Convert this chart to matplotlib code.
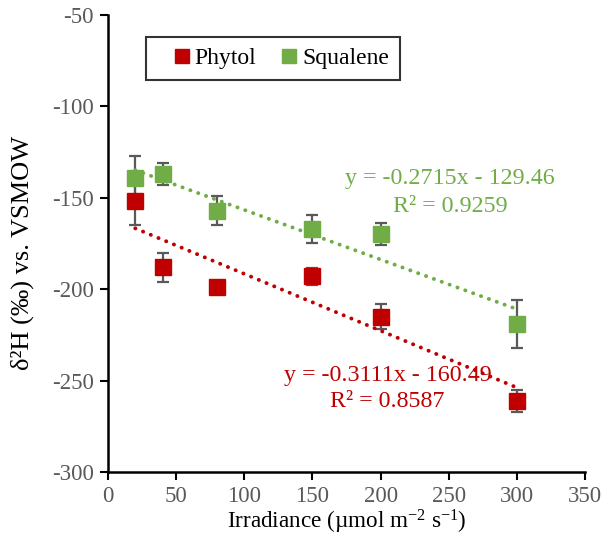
import matplotlib
matplotlib.use("Agg")
import matplotlib.pyplot as plt
import numpy as np

plt.rcParams['font.family'] = ['Liberation Serif', 'DejaVu Serif']
plt.rcParams['mathtext.fontset'] = 'custom'
plt.rcParams['mathtext.rm'] = 'Liberation Serif'
plt.rcParams['mathtext.it'] = 'Liberation Serif:italic'

# Irradiance levels (µmol m-2 s-1)
irradiance = [20, 40, 80, 150, 200, 300]

# δ2H values (‰ vs VSMOW) with standard deviations
phytol = [-152, -188, -199, -193, -215, -261]
phytol_err = [13, 8, 2, 4.5, 7, 6]
squalene = [-139, -137, -157, -167, -170, -219]
squalene_err = [12, 6, 8, 7.5, 6, 13]

# Linear fits (slope, intercept, R²)
phytol_fit = (-0.3111, -160.49, 0.8587)
squalene_fit = (-0.2715, -129.46, 0.9259)

red = '#C00000'
green = '#70AD47'
grey = '#595959'

fig = plt.figure(figsize=(6.03, 5.41), dpi=100)
ax = fig.add_axes([108/603, 1 - 472/541, 477/603, 457/541])

x = np.array(irradiance, dtype=float)
for vals, errs, col, lab in [(phytol, phytol_err, red, 'Phytol'),
                             (squalene, squalene_err, green, 'Squalene')]:
    ax.errorbar(x, vals, yerr=errs, fmt='none', ecolor=grey, elinewidth=1.6,
                capsize=4.3, capthick=1.6, zorder=2)
    ax.plot(x, vals, 's', color=col, ms=11, mec=col, label=lab, zorder=3)

for (m, b, r2), col in [(phytol_fit, red), (squalene_fit, green)]:
    xs = np.array([x.min(), x.max()])
    ax.plot(xs, m * xs + b, color=col, lw=2.8, linestyle=(0, (0.05, 2.1)),
            dash_capstyle='round', zorder=4)


def fit_label(fit, xc, y1, y2, col):
    m, b, r2 = fit
    ax.text(xc, y1, f'y = {m:.4f}x - {abs(b):.2f}', color=col, fontsize=17.3,
            ha='center', va='center', zorder=1)
    ax.text(xc, y2, f'R² = {r2:.4f}', color=col, fontsize=17.3,
            ha='center', va='center', zorder=1)


fit_label(squalene_fit, 251, -139.5, -154.5, green)
fit_label(phytol_fit, 205, -247, -261.7, red)

ax.set_xlim(0, 350)
ax.set_ylim(-300, -50)
ax.set_xticks(range(0, 351, 50))
ax.set_yticks(range(-300, -49, 50))
ax.set_yticklabels([f'-{abs(v)}' for v in range(-300, -49, 50)])

for s in ['top', 'right']:
    ax.spines[s].set_visible(False)
for s in ['left', 'bottom']:
    ax.spines[s].set_linewidth(1.8)
    ax.spines[s].set_color('black')
ax.tick_params(direction='out', length=6, width=1.5, labelsize=16.5,
               labelcolor=grey, pad=4)

ax.set_xlabel('Irradiance (µmol m$^{\\mathrm{-2}}$ s$^{\\mathrm{-1}}$)', fontsize=16.7, labelpad=1)
fig.text(22/603, 1 - 253/541, 'δ²H (‰) vs. VSMOW', fontsize=19, rotation=90,
         ha='center', va='center')

leg = ax.legend(loc='upper left', bbox_to_anchor=(0.08, 0.952), ncol=2,
                fontsize=17, frameon=True, fancybox=False, borderaxespad=0,
                handlelength=2.1, handletextpad=-0.5, columnspacing=0.35,
                borderpad=0.45, markerscale=0.95)
leg.get_frame().set_edgecolor('black')
leg.get_frame().set_linewidth(1.5)

fig.savefig('out.png', dpi=100)
